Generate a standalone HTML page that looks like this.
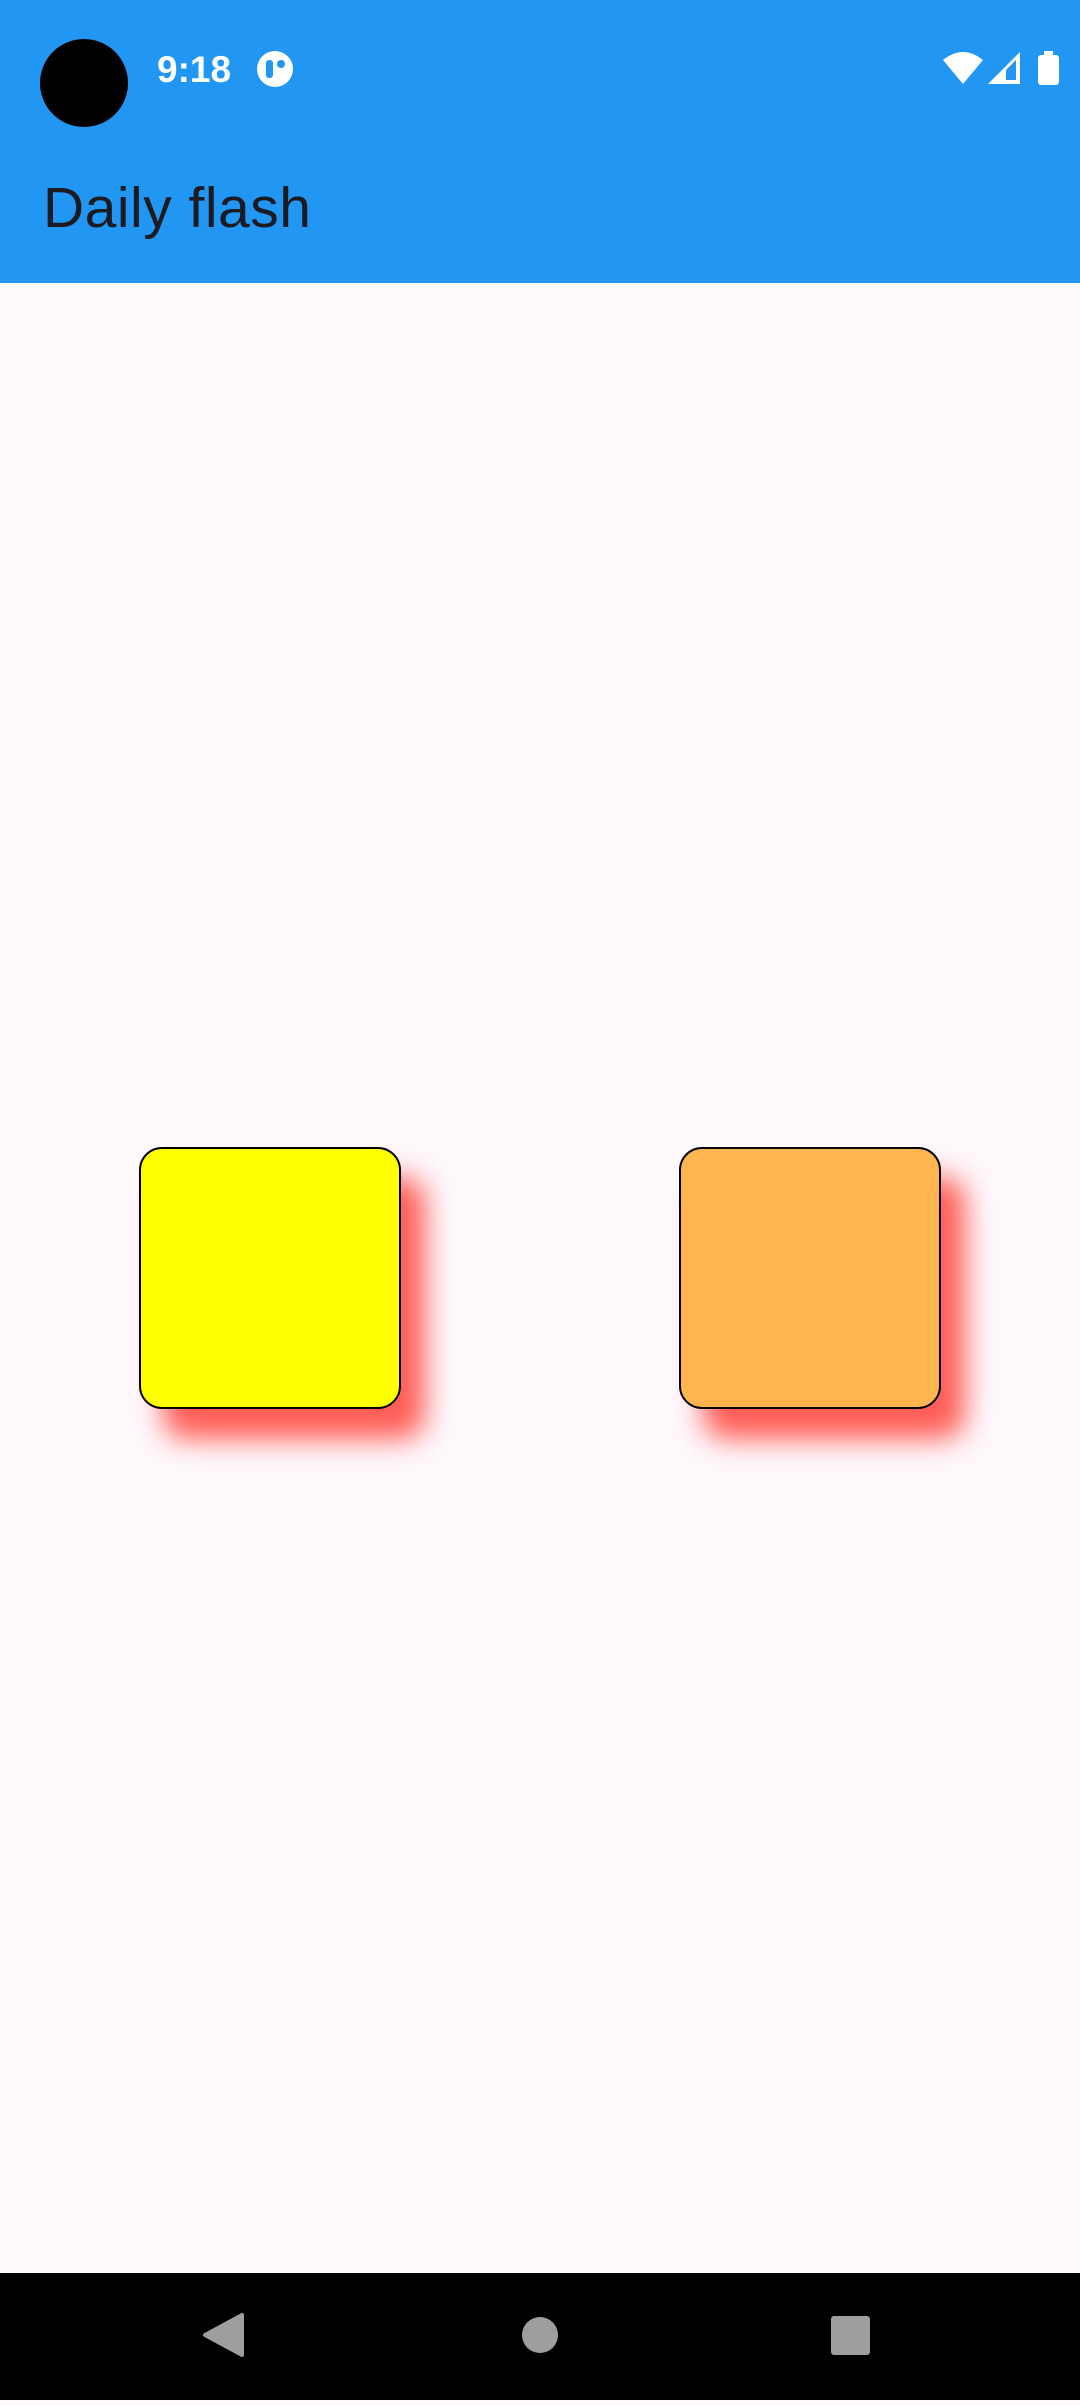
<!DOCTYPE html>
<html><head><meta charset="utf-8"><style>
html,body{margin:0;padding:0;width:1080px;height:2400px;overflow:hidden;background:#fef9fd;font-family:"Liberation Sans",sans-serif;}
#hdr{position:absolute;left:0;top:0;width:1080px;height:283px;background:#2196f3;}
#cam{position:absolute;left:40px;top:39px;width:88px;height:88px;border-radius:50%;background:#000;}
#time{position:absolute;left:157px;top:49px;font-size:37px;font-weight:bold;color:#fff;}
#title{position:absolute;left:43px;top:175px;font-size:57px;letter-spacing:0.5px;color:#1c1b22;}
.sq{position:absolute;top:1147px;width:258px;height:258px;border:2px solid #000;border-radius:23px;box-shadow:24px 30px 28px rgba(255,40,30,0.75);}
#nav{position:absolute;left:0;top:2273px;width:1080px;height:127px;background:#000;}
</style></head><body>
<div id="hdr">
 <div id="cam"></div>
 <div id="time">9:18</div>
 <svg style="position:absolute;left:256px;top:50px" width="38" height="38"><circle cx="19" cy="19" r="18" fill="#fff"/><rect x="10" y="10" width="7" height="18" rx="3" fill="#2196f3"/><circle cx="25" cy="14" r="4" fill="#2196f3"/></svg>
 <svg style="position:absolute;left:940px;top:50px" width="125" height="36">
  <path d="M3 10 Q23 -6 43 10 L23 34 Z" fill="#fff"/>
  <path d="M48 34 L80 2 L80 34 Z" fill="#fff"/><path d="M66 20 L76 10 L76 30 L66 30Z" fill="#2196f3"/>
  <rect x="98" y="5" width="21" height="30" rx="3" fill="#fff"/><rect x="104" y="1" width="9" height="5" fill="#fff"/>
 </svg>
 <div id="title">Daily flash</div>
</div>
<div class="sq" style="left:139px;background:#ffff00"></div>
<div class="sq" style="left:679px;background:#ffb54f"></div>
<div id="nav">
 <svg width="1080" height="127">
  <path d="M205 62 L242 42 L242 82 Z" fill="#9e9e9e" stroke="#9e9e9e" stroke-width="4" stroke-linejoin="round"/>
  <circle cx="540" cy="62" r="18" fill="#9e9e9e"/>
  <rect x="831" y="43" width="39" height="39" rx="3" fill="#9e9e9e"/>
 </svg>
</div>
</body></html>
